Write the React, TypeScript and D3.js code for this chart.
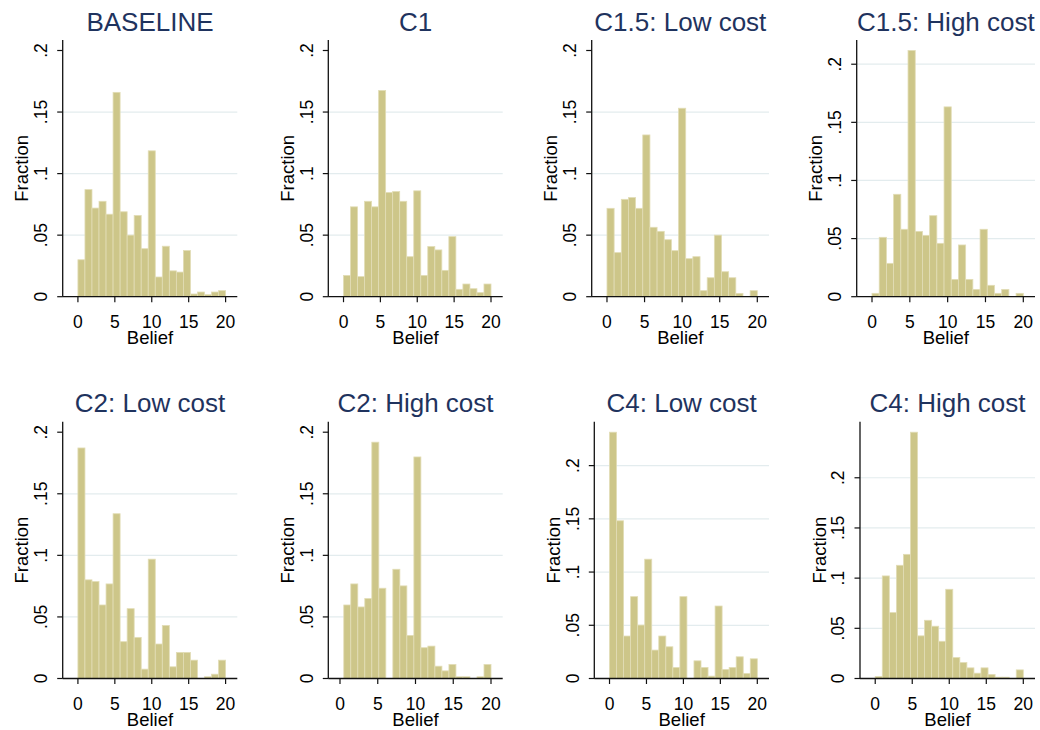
import * as d3 from 'd3';

// histogram fractions per bin (21 bins up to 20)
const titles = [
  'BASELINE',
  'C1',
  'C1.5: Low cost',
  'C1.5: High cost',
  'C2: Low cost',
  'C2: High cost',
  'C4: Low cost',
  'C4: High cost',
];
const binStarts = [0, 0, 0, 0, 0, 0.5, 0, 0];
const binEnd = 20;

const baseline = [0.03, 0.087, 0.072, 0.0775, 0.067, 0.166, 0.069, 0.05, 0.066, 0.039, 0.1185, 0.016, 0.041, 0.021, 0.02, 0.0375, 0.0022, 0.0038, 0.0016, 0.0038, 0.0049];
const c1 = [0.0173, 0.073, 0.0163, 0.0775, 0.073, 0.1675, 0.0846, 0.0854, 0.0775, 0.0325, 0.086, 0.0173, 0.0407, 0.038, 0.0214, 0.0488, 0.006, 0.0103, 0.0065, 0.0033, 0.0103];
const c15Low = [0.0718, 0.0358, 0.0791, 0.0805, 0.0718, 0.1314, 0.0564, 0.0531, 0.0463, 0.0374, 0.1531, 0.0309, 0.0325, 0.0049, 0.0154, 0.05, 0.0203, 0.0154, 0.0027, 0, 0.0049];
const c15High = [0.0029, 0.0511, 0.0287, 0.0881, 0.058, 0.2118, 0.0562, 0.0528, 0.0697, 0.0459, 0.1633, 0.0149, 0.0445, 0.0149, 0.0063, 0.058, 0.0098, 0.0029, 0.0063, 0, 0.0029];
const c2Low = [0.1872, 0.0801, 0.0787, 0.0597, 0.0768, 0.1338, 0.0299, 0.0567, 0.0334, 0.0076, 0.0969, 0.028, 0.0431, 0.0095, 0.0212, 0.0212, 0.0149, 0, 0.0014, 0.0035, 0.0149];
const c2High = [0.0597, 0.0768, 0.0581, 0.0649, 0.1919, 0.0733, 0, 0.0887, 0.0752, 0.035, 0.1799, 0.025, 0.0263, 0.01, 0.0062, 0.0114, 0.0014, 0.0014, 0, 0.0014, 0.0114];
const c4Low = [0.2314, 0.1482, 0.0399, 0.0769, 0.0502, 0.1121, 0.0267, 0.0399, 0.0298, 0.0104, 0.0769, 0, 0.0166, 0.0104, 0.0022, 0.0681, 0.0085, 0.0104, 0.0204, 0.0047, 0.0185];
const c4High = [0.002, 0.1022, 0.0657, 0.1128, 0.1237, 0.2454, 0.0425, 0.058, 0.0521, 0.0371, 0.0889, 0.0209, 0.0159, 0.0106, 0.0053, 0.0106, 0.004, 0.0013, 0.0013, 0, 0.0086];

const series = [baseline, c1, c15Low, c15High, c2Low, c2High, c4Low, c4High];

const xTicks = [0, 5, 10, 15, 20];
const yTicks = [0, 0.05, 0.1, 0.15, 0.2];
const yTickLabels = ['0', '.05', '.1', '.15', '.2'];

const width = 1040,
  height = 730;

// plot region geometry per panel (axis line extents)
const plotLefts = [62.7, 328.3, 591.7, 856.7, 62.7, 328.3, 594.3, 860];
const plotRights = [237.3, 502.7, 769, 1035, 237.3, 502.7, 769, 1035];
const rowTops = [40, 421.7];
const rowBottoms = [296.7, 678.5];

const font = "'Liberation Sans', Arial, Helvetica, sans-serif";
const barFill = '#cdc689';
const barStroke = '#e2ddb6';
const gridColor = '#e3ecee';
const titleColor = '#1f335e';

function Panel({ i }: { i: number }) {
  const values = series[i];
  const n = values.length;
  const start = binStarts[i];
  const bw = (binEnd - start) / n;
  const left = plotLefts[i],
    right = plotRights[i];
  const row = Math.floor(i / 4);
  const top = rowTops[row],
    bottom = rowBottoms[row];

  const x = d3
    .scaleLinear()
    .domain([Math.min(0, start - bw / 2), binEnd])
    .range([left + 11.7, right - 11.7]);
  const ymax = Math.max(0.2, d3.max(values) as number);
  const y = d3
    .scaleLinear()
    .domain([0, ymax])
    .range([bottom, top + 10.5]);

  const bins = values.map((v, k) => ({
    x0: start + k * bw,
    x1: start + (k + 1) * bw,
    v,
  }));
  const cx = (left + right) / 2;
  const cy = (top + bottom) / 2;

  return (
    <g>
      <text
        x={cx}
        y={top - 9.3}
        textAnchor="middle"
        fontSize={26}
        fill={titleColor}
        fontFamily={font}
      >
        {titles[i]}
      </text>
      {yTicks
        .filter((t) => t > 0 && t < ymax)
        .map((t) => (
          <line
            key={t}
            x1={left}
            x2={right}
            y1={y(t)}
            y2={y(t)}
            stroke={gridColor}
            strokeWidth={1.2}
          />
        ))}
      {bins
        .filter((b) => b.v > 0)
        .map((b, k) => (
          <rect
            key={k}
            x={x(b.x0)}
            y={y(b.v)}
            width={x(b.x1) - x(b.x0)}
            height={bottom - y(b.v)}
            fill={barFill}
            stroke={barStroke}
            strokeWidth={0.8}
          />
        ))}
      <line x1={left} x2={left} y1={top} y2={bottom} stroke="#111" strokeWidth={1.3} />
      <line x1={left} x2={right} y1={bottom} y2={bottom} stroke="#111" strokeWidth={1.3} />
      {yTicks.map((t, k) => (
        <g key={t} transform={`translate(${left},${y(t)})`}>
          <line x1={-5.5} x2={0} stroke="#111" strokeWidth={1.2} />
          <text
            transform="translate(-15.7,0) rotate(-90)"
            textAnchor="middle"
            fontSize={17.5}
            fontFamily={font}
            fill="#000"
          >
            {yTickLabels[k]}
          </text>
        </g>
      ))}
      {xTicks.map((t) => (
        <g key={t} transform={`translate(${x(t)},${bottom})`}>
          <line y1={0} y2={5.5} stroke="#111" strokeWidth={1.2} />
          <text
            y={31}
            textAnchor="middle"
            fontSize={17.5}
            fontFamily={font}
            fill="#000"
          >
            {t}
          </text>
        </g>
      ))}
      <text
        x={cx}
        y={bottom + 47}
        textAnchor="middle"
        fontSize={18.5}
        fontFamily={font}
        fill="#000"
      >
        Belief
      </text>
      <text
        transform={`translate(${left - 34.4},${cy}) rotate(-90)`}
        textAnchor="middle"
        fontSize={18.5}
        fontFamily={font}
        fill="#000"
      >
        Fraction
      </text>
    </g>
  );
}

export default function App() {
  return (
    <div style={{ position: 'absolute', left: 0, top: 0 }}>
      <svg width={width} height={height} viewBox={`0 0 ${width} ${height}`}>
        <rect width={width} height={height} fill="#fff" />
        {series.map((_, i) => (
          <Panel key={i} i={i} />
        ))}
      </svg>
    </div>
  );
}
